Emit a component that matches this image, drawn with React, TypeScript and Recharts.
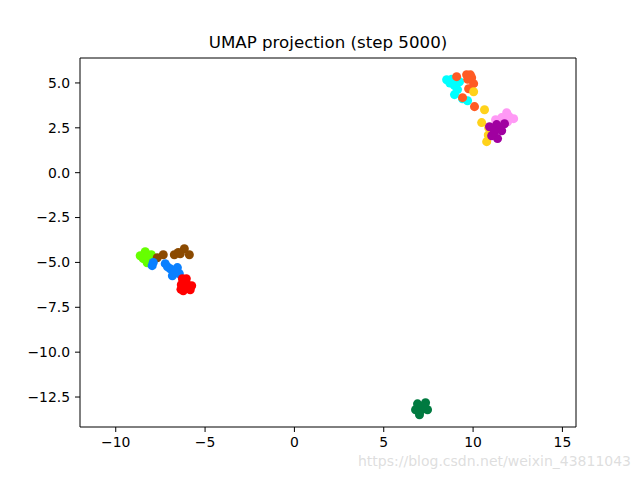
import React from "react";
import { ScatterChart, Scatter, XAxis, YAxis, ZAxis, ReferenceArea } from "recharts";

const xTicks = [-10, -5, 0, 5, 10, 15];
const yTicks = [-12.5, -10, -7.5, -5, -2.5, 0, 2.5, 5];
const xDomain = [-12.0, 15.76];
const yDomain = [-14.17, 6.39];

const cyanPts = [[8.52, 5.18], [8.8, 5.2], [8.96, 4.85], [9.13, 4.63], [8.96, 4.35], [9.41, 4.12], [9.69, 4.01], [9.24, 5.07], [8.7, 5.0], [9.05, 4.95]];
const orangePts = [[9.08, 5.35], [9.64, 5.46], [9.92, 5.29], [10.03, 4.96], [9.75, 4.68], [9.41, 4.18], [10.08, 3.68], [9.85, 5.45], [9.7, 5.2]];
const goldPts = [[10.64, 3.51], [10.48, 2.79], [10.76, 1.73], [10.03, 4.51], [10.87, 2.51], [10.85, 2.1]];
const purplePts = [[10.92, 2.56], [11.32, 2.68], [11.6, 2.34], [11.37, 1.9], [11.04, 2.06], [11.76, 2.73], [11.48, 2.51], [11.2, 2.3]];
const pinkPts = [[11.26, 2.95], [11.88, 3.34], [12.27, 3.01], [11.93, 2.84], [11.6, 3.07], [12.0, 3.15]];
const limePts = [[-8.63, -4.63], [-8.35, -4.4], [-8.01, -4.57], [-8.24, -5.02], [-8.46, -4.79], [-8.2, -4.7]];
const brownPts = [[-7.68, -4.74], [-7.34, -4.57], [-6.72, -4.57], [-6.39, -4.52], [-6.16, -4.24], [-5.88, -4.57], [-6.5, -4.45]];
const bluePts = [[-7.96, -5.18], [-7.23, -5.07], [-6.95, -5.35], [-6.55, -5.29], [-6.83, -5.74], [-6.44, -5.63], [-6.67, -5.52], [-7.1, -5.25], [-7.9, -5.0]];
const redPts = [[-6.27, -5.91], [-5.99, -6.24], [-6.22, -6.58], [-5.83, -6.52], [-6.33, -6.24], [-6.05, -5.91], [-6.1, -6.4], [-5.75, -6.3], [-6.35, -6.5]];
const seaPts = [[6.89, -12.88], [7.34, -12.82], [7.11, -13.21], [6.78, -13.21], [7.45, -13.21], [7.0, -13.49], [7.2, -13.0]];

const clusters = [
  { name: "cyan", pts: cyanPts, color: "#00FFFF" },
  { name: "orange", pts: orangePts, color: "#FF5B24" },
  { name: "gold", pts: goldPts, color: "#FFD21A" },
  { name: "pink", pts: pinkPts, color: "#FF99F5" },
  { name: "purple", pts: purplePts, color: "#A000A0" },
  { name: "lime", pts: limePts, color: "#66FF00" },
  { name: "brown", pts: brownPts, color: "#8B4A00" },
  { name: "blue", pts: bluePts, color: "#0A80FF" },
  { name: "red", pts: redPts, color: "#FF0000" },
  { name: "sea", pts: seaPts, color: "#007A40" },
];

const fmt = (d: number) => (d === 0 ? "0" : String(d).replace("-", "\u2212"));
const fmtY = (d: number) => d.toFixed(1).replace("-", "\u2212");

const font = "DejaVu Sans, sans-serif";

export default function App() {
  return (
    <div style={{ position: "absolute", left: 0, top: 0, width: 640, height: 480, background: "#fff", fontFamily: font, overflow: "hidden" }}>
      <div
        style={{
          position: "absolute",
          left: 80,
          width: 496,
          top: 32.5,
          textAlign: "center",
          fontSize: 16.67,
          lineHeight: "20px",
          color: "#000",
          fontFamily: font,
        }}
      >
        UMAP projection (step 5000)
      </div>
      <ScatterChart width={640} height={480} margin={{ top: 58, right: 64, bottom: 23, left: 20 }}>
        <XAxis
          type="number"
          dataKey="x"
          domain={xDomain}
          ticks={xTicks}
          tickFormatter={fmt}
          allowDataOverflow
          height={30}
          tickSize={5}
          tickMargin={5}
          axisLine={false}
          tickLine={{ stroke: "#000" }}
          tick={{ fill: "#000", fontSize: 13.9, fontFamily: font }}
        />
        <YAxis
          type="number"
          dataKey="y"
          domain={yDomain}
          ticks={yTicks}
          tickFormatter={fmtY}
          allowDataOverflow
          width={60}
          tickSize={5}
          tickMargin={5}
          axisLine={false}
          tickLine={{ stroke: "#000" }}
          tick={{ fill: "#000", fontSize: 13.9, fontFamily: font }}
        />
        <ZAxis range={[58, 58]} />
        {clusters.map((c) => (
          <Scatter
            key={c.name}
            name={c.name}
            data={c.pts.map(([x, y]) => ({ x, y }))}
            fill={c.color}
            isAnimationActive={false}
          />
        ))}
        <ReferenceArea
          x1={xDomain[0]}
          x2={xDomain[1]}
          y1={yDomain[0]}
          y2={yDomain[1]}
          fill="none"
          stroke="#000"
          strokeWidth={1}
          ifOverflow="visible"
        />
      </ScatterChart>
      <div
        style={{
          position: "absolute",
          left: 358,
          top: 453,
          width: 282,
          fontSize: 14,
          color: "rgba(200,200,200,0.6)",
          fontFamily: "DejaVu Sans, sans-serif",
          whiteSpace: "nowrap",
        }}
      >
        https://blog.csdn.net/weixin_43811043
      </div>
    </div>
  );
}
